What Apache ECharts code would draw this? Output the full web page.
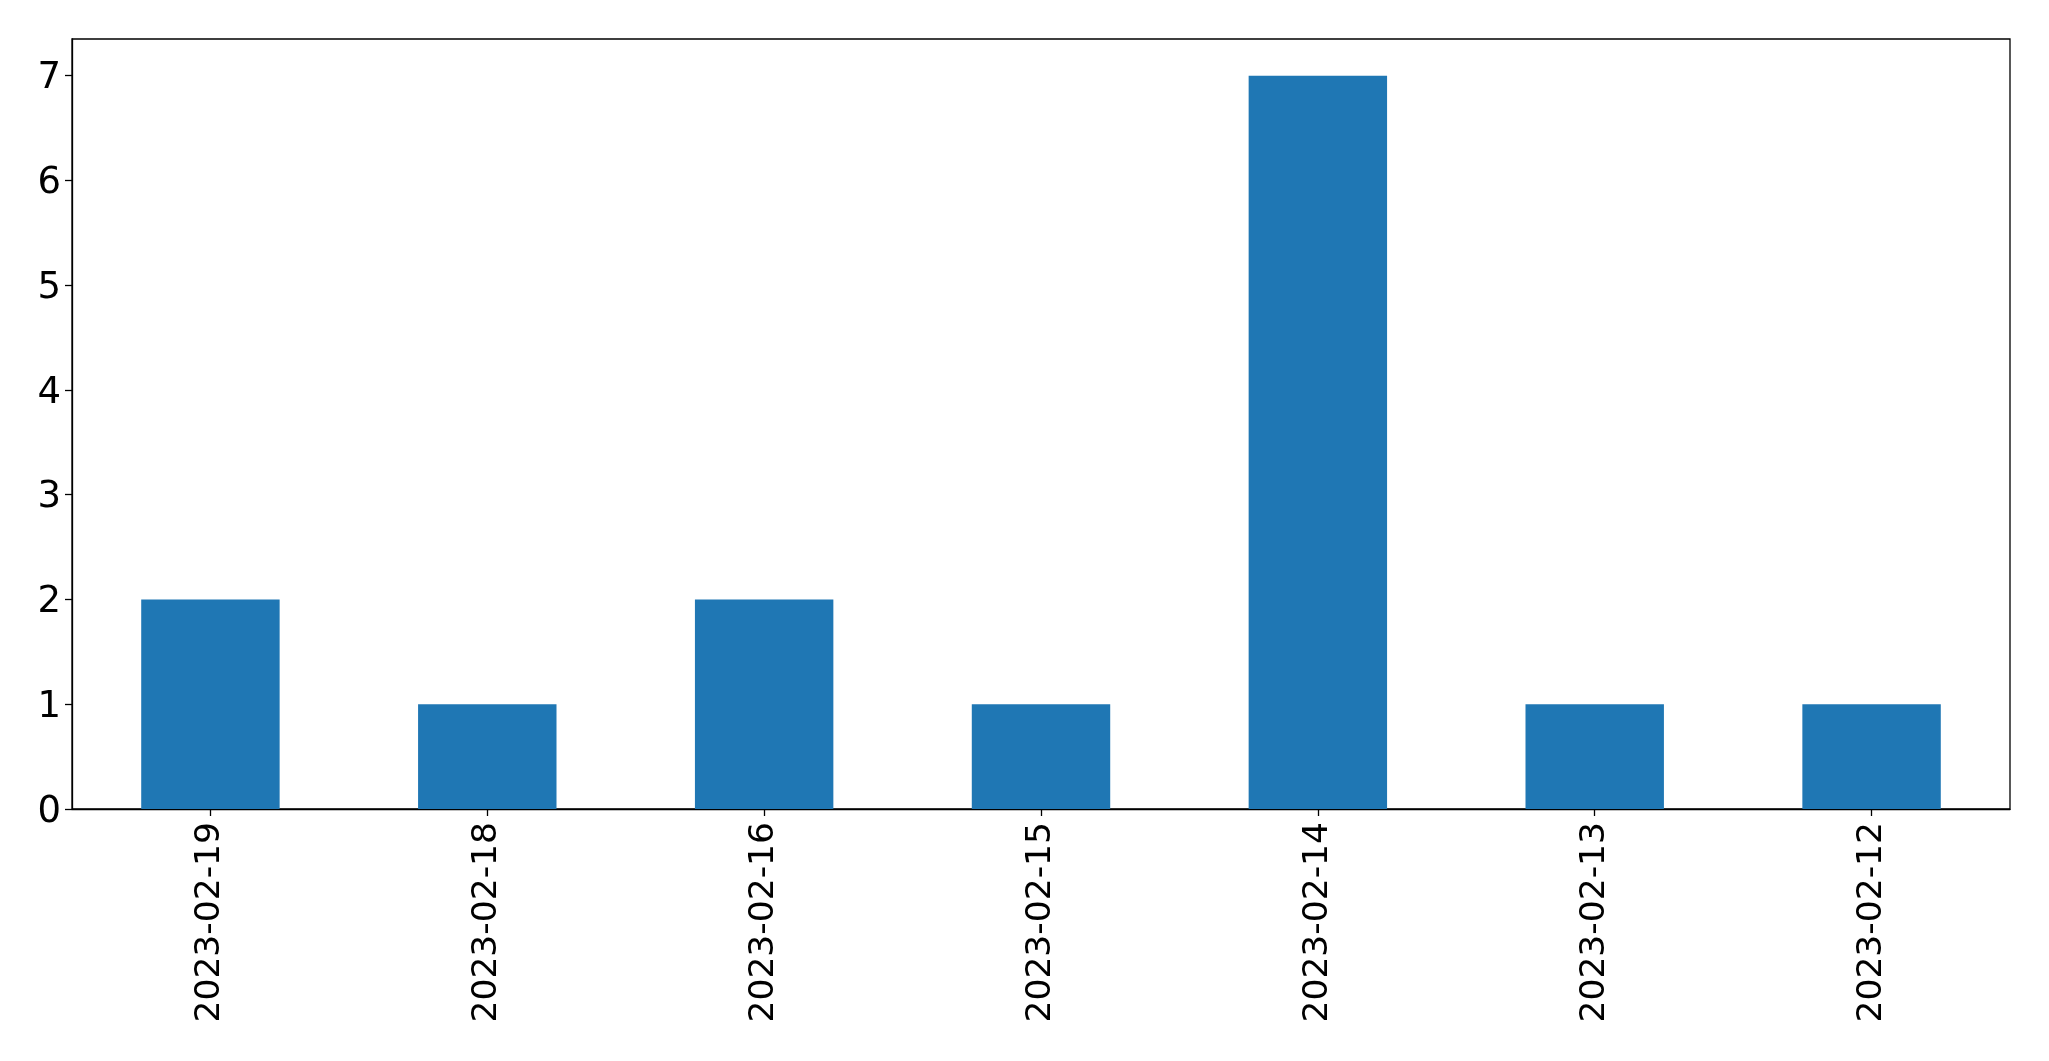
<!DOCTYPE html>
<html>
<head>
<meta charset="utf-8">
<script src="https://cdn.jsdelivr.net/npm/echarts@6/dist/echarts.min.js"></script>
<style>html,body{margin:0;padding:0;background:#fff;}#c{width:2049px;height:1061px;}</style>
</head>
<body>
<div id="c"></div>
<script>
const categories = ["2023-02-19", "2023-02-18", "2023-02-16", "2023-02-15", "2023-02-14", "2023-02-13", "2023-02-12"];
const values = [2, 1, 2, 1, 7, 1, 1];
const yTicks = [0, 1, 2, 3, 4, 5, 6, 7];

const chart = echarts.init(document.getElementById('c'), null, {renderer: 'canvas'});
chart.setOption({
  animation: false,
  backgroundColor: '#ffffff',
  grid: {
    left: 72, right: 39, top: 39, bottom: 252,
    show: true, borderColor: '#000', borderWidth: 1.3, backgroundColor: 'transparent'
  },
  xAxis: {
    type: 'category',
    data: categories,
    axisLine: {show: true, lineStyle: {color: '#000', width: 1.3}},
    axisTick: {show: true, alignWithLabel: true, length: 7, lineStyle: {color: '#000', width: 1.3}},
    axisLabel: {rotate: 90, margin: 13, fontSize: 34.5, color: '#000', fontFamily: 'DejaVu Sans'},
    splitLine: {show: false}
  },
  yAxis: {
    type: 'value',
    min: 0, max: 7.35,
    axisLine: {show: true, lineStyle: {color: '#000', width: 1.3}},
    axisTick: {show: true, length: 7, customValues: yTicks, lineStyle: {color: '#000', width: 1.3}},
    axisLabel: {
      color: '#000', margin: 11,
      customValues: yTicks,
      formatter: function (v) { return '{a|' + v + '}'; },
      rich: {a: {fontSize: 37, color: '#000', fontFamily: 'DejaVu Sans', padding: [6, 0, 0, 0]}}
    },
    splitLine: {show: false}
  },
  series: [{
    type: 'bar',
    data: values,
    barWidth: '50%',
    itemStyle: {color: '#1f77b4'}
  }]
});
</script>
</body>
</html>
